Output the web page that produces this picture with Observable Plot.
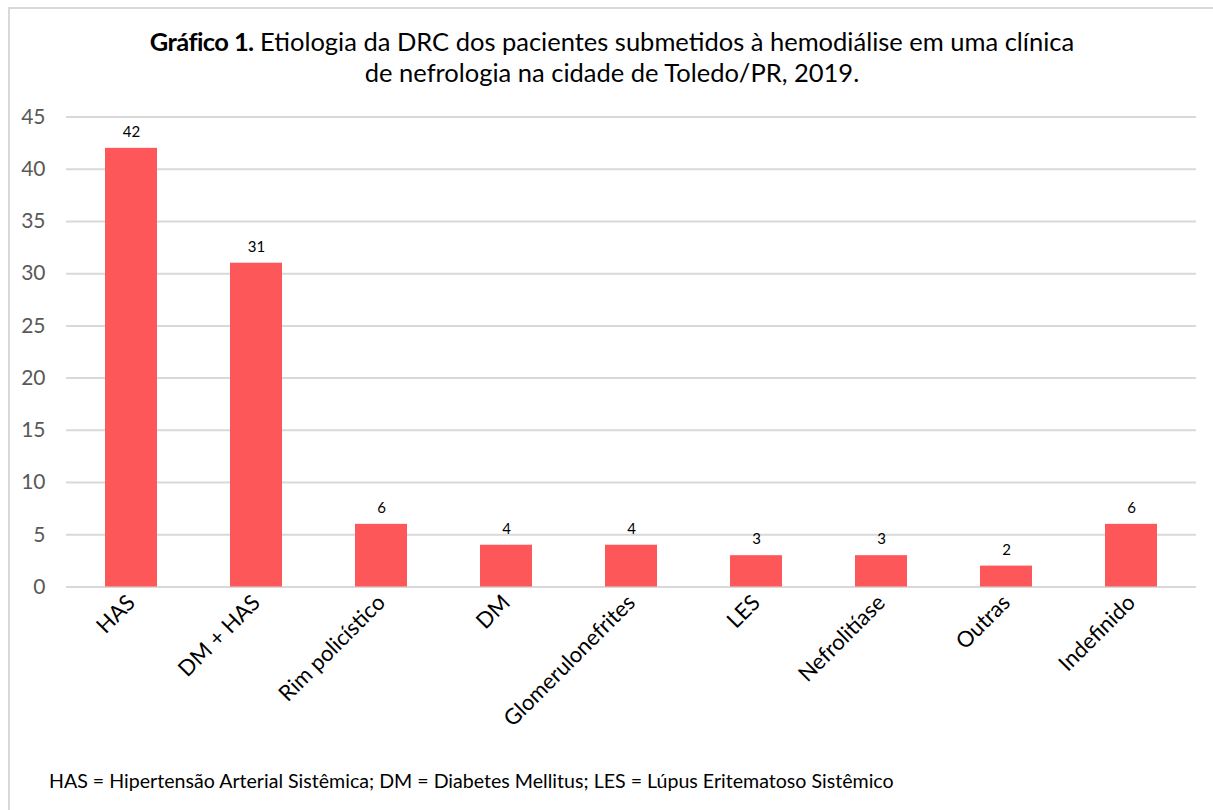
<!DOCTYPE html>
<html>
<head>
<meta charset="utf-8">
<script src="https://cdn.jsdelivr.net/npm/d3@7"></script>
<script src="https://cdn.jsdelivr.net/npm/@observablehq/plot@0.6"></script>
<style>
  html, body { margin: 0; padding: 0; background: #fff; }
  #wrap { position: relative; width: 1213px; height: 810px; overflow: hidden; font-family: Lato, "Noto Sans", sans-serif; }
  #frame { position: absolute; left: 8px; top: 7px; width: 1260px; height: 860px; border: 2px solid #d9d9d9; box-sizing: border-box; }
  #title { position: absolute; left: 0; width: 1224px; top: 26px; text-align: center; font-size: 25.5px; line-height: 31px; color: #000; }
  #title b { font-weight: 700; letter-spacing: -0.6px; }
  #chart { position: absolute; left: 0; top: 100px; }
  #caption { position: absolute; left: 49px; top: 769px; font-size: 19.6px; color: #000; }
</style>
</head>
<body>
<div id="wrap">
  <div id="frame"></div>
  <div id="title"><b>Gráfico 1.</b> Etiologia da DRC dos pacientes submetidos à hemodiálise em uma clínica<br>de nefrologia na cidade de Toledo/PR, 2019.</div>
  <div id="chart"></div>
  <div id="caption">HAS = Hipertensão Arterial Sistêmica; DM = Diabetes Mellitus; LES = Lúpus Eritematoso Sistêmico</div>
</div>
<script>
const categories = ["HAS", "DM + HAS", "Rim policístico", "DM", "Glomerulonefrites", "LES", "Nefrolitíase", "Outras", "Indefinido"];
const values = [42, 31, 6, 4, 4, 3, 3, 2, 6];
const yTicks = [0, 5, 10, 15, 20, 25, 30, 35, 40, 45];

const data = categories.map((c, i) => ({category: c, value: values[i]}));

const chart = Plot.plot({
  width: 1213,
  height: 650,
  marginTop: 16.5,
  marginBottom: 163.5,
  marginLeft: 66,
  marginRight: 17,
  style: {fontFamily: "Lato, 'Noto Sans', sans-serif", background: "transparent"},
  x: {domain: categories, paddingInner: 0.585, paddingOuter: 0.2925, label: null},
  y: {domain: [0, 45], label: null},
  marks: [
    Plot.ruleY(yTicks, {stroke: "#d9d9d9", strokeWidth: 2}),
    Plot.barY(data, {x: "category", y: "value", fill: "#fd5759"}),
    Plot.text(data, {x: "category", y: "value", text: d => String(d.value), dy: -16, fontSize: 15, fill: "#000"}),
    Plot.axisY(yTicks, {tickSize: 0, tickPadding: 21, fontSize: 21, fill: "#595959", label: null}),
    Plot.axisX({tickSize: 0, tickPadding: 12, tickRotate: -45, fontSize: 22, fill: "#000", label: null})
  ]
});
document.getElementById("chart").appendChild(chart);
</script>
</body>
</html>
